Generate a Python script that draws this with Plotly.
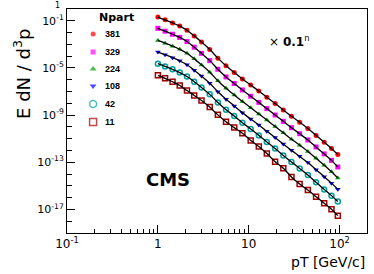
import plotly.graph_objects as go

# pT bins [GeV/c]
pt = [1.0, 1.2, 1.45, 1.74, 2.09, 2.51, 3.02, 3.72, 4.57, 5.62, 6.92, 8.51,
      10.5, 12.9, 15.8, 19.5, 24.0, 29.5, 36.3, 44.7, 55.0, 67.6, 81.3, 95.5]

# log10(E dN/d3p) x 0.1^n
log_381 = [-0.68, -0.92, -1.18, -1.45, -1.80, -2.28, -2.80, -3.43, -4.17, -4.82, -5.38, -5.93,
           -6.45, -6.96, -7.48, -8.02, -8.56, -9.10, -9.60, -10.13, -10.72, -11.30, -11.83, -12.35]
log_329 = [-1.64, -1.88, -2.14, -2.41, -2.76, -3.24, -3.76, -4.38, -5.11, -5.76, -6.32, -6.87,
           -7.40, -7.92, -8.45, -8.99, -9.53, -10.07, -10.58, -11.11, -11.70, -12.29, -12.84, -13.40]
log_224 = [-2.67, -2.90, -3.15, -3.42, -3.76, -4.23, -4.74, -5.36, -6.09, -6.73, -7.29, -7.84,
           -8.38, -8.90, -9.42, -9.96, -10.50, -11.04, -11.55, -12.08, -12.67, -13.25, -13.80, -14.33]
log_108 = [-3.65, -3.88, -4.13, -4.40, -4.73, -5.19, -5.69, -6.30, -7.02, -7.65, -8.22, -8.79,
           -9.33, -9.84, -10.36, -10.90, -11.45, -11.99, -12.50, -13.03, -13.63, -14.22, -14.77, -15.29]
log_42 = [-4.64, -4.87, -5.12, -5.39, -5.72, -6.17, -6.65, -7.24, -7.93, -8.54, -9.08, -9.64,
          -10.18, -10.72, -11.28, -11.84, -12.42, -12.98, -13.52, -14.08, -14.70, -15.30, -15.83, -16.33]
log_11 = [-5.63, -5.88, -6.17, -6.49, -6.92, -7.33, -7.76, -8.32, -8.98, -9.56, -10.06, -10.53,
          -11.15, -11.67, -12.26, -12.95, -13.50, -14.25, -14.85, -15.35, -15.92, -16.48, -16.98, -17.53]

npart = ["381", "329", "224", "108", "42", "11"]
series = [log_381, log_329, log_224, log_108, log_42, log_11]

colors = ["#ff0000", "#ff00ff", "#00a000", "#0000ff", "#00a0a0", "#a00000"]
symbols = ["circle", "square", "triangle-up", "triangle-down", "circle-open", "square-open"]
sizes = [5, 5, 5, 5, 5, 5]

y_ticks = [1e-1, 1e-5, 1e-9, 1e-13, 1e-17]
y_ticktext = ["10<sup>-1</sup>", "10<sup>-5</sup>", "10<sup>-9</sup>", "10<sup>-13</sup>", "10<sup>-17</sup>"]
x_ticks = [0.1, 1, 10, 100]
x_ticktext = ["10<sup>-1</sup>", "1", "10", "10<sup>2</sup>"]

FONT = "DejaVu Sans"

fig = go.Figure()
for lab, logs, c, s, sz in zip(npart, series, colors, symbols, sizes):
    yv = [10 ** v for v in logs]
    fig.add_trace(go.Scatter(
        x=pt, y=yv, mode="markers", name=lab, showlegend=False,
        marker=dict(symbol=s, color=c, size=sz,
                    line=dict(color=c, width=1.5 if "open" in s else 0)),
    ))
for logs in series:
    yv = [10 ** v for v in logs]
    fig.add_trace(go.Scatter(
        x=pt, y=yv, mode="lines", showlegend=False, hoverinfo="skip",
        line=dict(color="black", width=1.3, shape="spline"),
    ))

# manual legend on an overlay axis (0..1 over the plot area)
leg_y = [0.888, 0.808, 0.732, 0.656, 0.576, 0.496]
fig.add_trace(go.Scatter(
    x=[0.087] * len(npart), y=leg_y, mode="markers", xaxis="x2", yaxis="y2",
    showlegend=False, hoverinfo="skip",
    marker=dict(symbol=symbols, color=colors, size=[5, 5, 6, 6, 7, 7],
                line=dict(color=colors, width=[0, 0, 0, 0, 1.5, 1.5])),
))
annotations = []
for lab, yy in zip(npart, leg_y):
    annotations.append(dict(xref="x2", yref="y2", x=0.12, y=yy, text="<b>" + lab + "</b>",
                            showarrow=False, xanchor="left", yanchor="middle",
                            font=dict(family="Liberation Sans", size=9, color="black")))
annotations.append(dict(xref="x2", yref="y2", x=0.1, y=0.962, text="<b>Npart</b>",
                        showarrow=False, xanchor="left", yanchor="middle",
                        font=dict(family=FONT, size=11, color="black")))
annotations.append(dict(xref="x2", yref="y2", x=0.74, y=0.855,
                        text="\u00d7 <b>0.1</b><sup>n</sup>",
                        showarrow=False, xanchor="center", yanchor="middle",
                        font=dict(family=FONT, size=12, color="black")))
annotations.append(dict(xref="x2", yref="y2", x=0.335, y=0.241, text="<b>CMS</b>",
                        showarrow=False, xanchor="center", yanchor="middle",
                        font=dict(family=FONT, size=18, color="black")))
annotations.append(dict(xref="paper", yref="paper", x=1.0, y=-0.085, text="pT [GeV/c]",
                        showarrow=False, xanchor="right", yanchor="top",
                        font=dict(family=FONT, size=14, color="black")))
annotations.append(dict(xref="paper", yref="paper", x=-0.15, y=0.92, text="E dN / d<sup>3</sup>p",
                        showarrow=False, textangle=-90, xanchor="center", yanchor="top",
                        font=dict(family=FONT, size=18, color="black")))
# the "1" label at the top of the y axis (10^0)
annotations.append(dict(xref="paper", yref="paper", x=-0.018, y=1.015, text="1",
                        showarrow=False, xanchor="right", yanchor="middle",
                        font=dict(family=FONT, size=8, color="black")))

minor_x = [m * 10 ** e for e in (-1, 0, 1) for m in range(2, 10)] + [200]
minor_y = [10.0 ** (-k) for k in range(0, 20)]

fig.update_layout(
    width=374, height=274,
    margin=dict(l=67, r=7, t=9, b=41, autoexpand=False),
    paper_bgcolor="white", plot_bgcolor="white",
    showlegend=False,
    annotations=annotations,
    xaxis=dict(type="log", range=[-1, 2.301], showgrid=False, zeroline=False, automargin=False,
               showline=True, linecolor="black", linewidth=1, mirror=True,
               ticks="inside", ticklen=8, tickwidth=1, tickcolor="black",
               tickvals=x_ticks, ticktext=x_ticktext,
               tickfont=dict(family=FONT, size=12, color="black"),
               minor=dict(tickvals=minor_x, ticks="inside", ticklen=4, tickcolor="black", showgrid=False)),
    yaxis=dict(type="log", range=[-19, 0], showgrid=False, zeroline=False, automargin=False,
               showline=True, linecolor="black", linewidth=1, mirror=True,
               ticks="inside", ticklen=8, tickwidth=1, tickcolor="black",
               tickvals=y_ticks, ticktext=y_ticktext,
               tickfont=dict(family=FONT, size=11, color="black"),
               minor=dict(tickvals=minor_y, ticks="inside", ticklen=5, tickcolor="black", showgrid=False)),
    xaxis2=dict(overlaying="x", range=[0, 1], visible=False, anchor="y2"),
    yaxis2=dict(overlaying="y", range=[0, 1], visible=False, anchor="x2"),
)

fig.write_html("out.html", config={"displayModeBar": False},
               post_script="document.body.style.margin='0px';")
